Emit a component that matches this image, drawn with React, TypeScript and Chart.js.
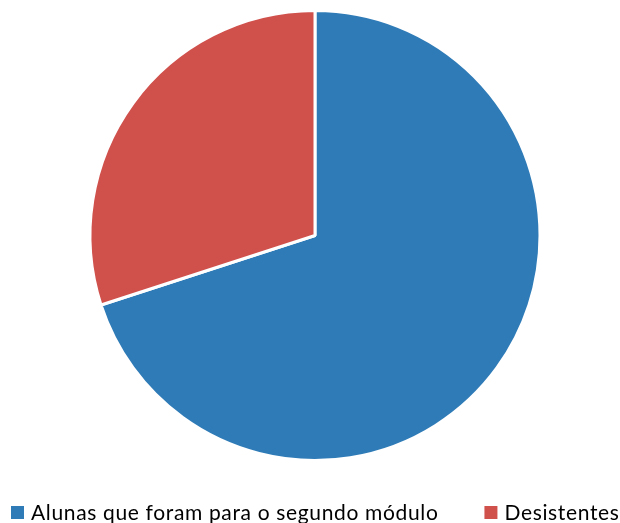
import React, { useEffect, useRef } from "react";
import { Chart, registerables } from "chart.js";

Chart.register(...registerables);

const categories = ["Alunas que foram para o segundo módulo", "Desistentes"];
const values = [70, 30];
const colors = ["#2E7BB7", "#D0504C"];

const legendPlugin = {
  id: "bottomLegend",
  afterDraw(chart: any) {
    const ctx = chart.ctx as CanvasRenderingContext2D;
    const labels = chart.data.labels as string[];
    const bg = chart.data.datasets[0].backgroundColor as string[];
    ctx.save();
    ctx.font = "21px Lato, 'Open Sans', sans-serif";
    (ctx as any).letterSpacing = "0.65px";
    ctx.textBaseline = "alphabetic";
    ctx.textAlign = "left";
    const box = 13;
    const boxGap = 7;
    const itemGap = 46;
    const baseline = 520;
    let x = 11;
    labels.forEach((lab, i) => {
      ctx.fillStyle = bg[i];
      ctx.fillRect(x, 506, box, box);
      ctx.fillStyle = "#000000";
      const tx = x + box + boxGap;
      ctx.fillText(lab, tx, baseline);
      x = tx + ctx.measureText(lab).width + itemGap;
    });
    ctx.restore();
  },
};

export default function App() {
  const ref = useRef<HTMLCanvasElement>(null);
  useEffect(() => {
    document.body.style.margin = "0";
    const chart = new Chart(ref.current!, {
      type: "pie",
      data: {
        labels: categories,
        datasets: [
          {
            data: values,
            backgroundColor: colors,
            borderColor: "#ffffff",
            borderWidth: 3,
          },
        ],
      },
      options: {
        responsive: false,
        animation: false,
        layout: { padding: { top: 9, bottom: 61, left: 10, right: 0 } },
        plugins: {
          tooltip: { enabled: false },
          legend: { display: false },
        },
      },
      plugins: [legendPlugin],
    });
    return () => chart.destroy();
  }, []);
  return (
    <div style={{ width: 620, height: 523 }}>
      <canvas ref={ref} width={620} height={523} />
    </div>
  );
}
